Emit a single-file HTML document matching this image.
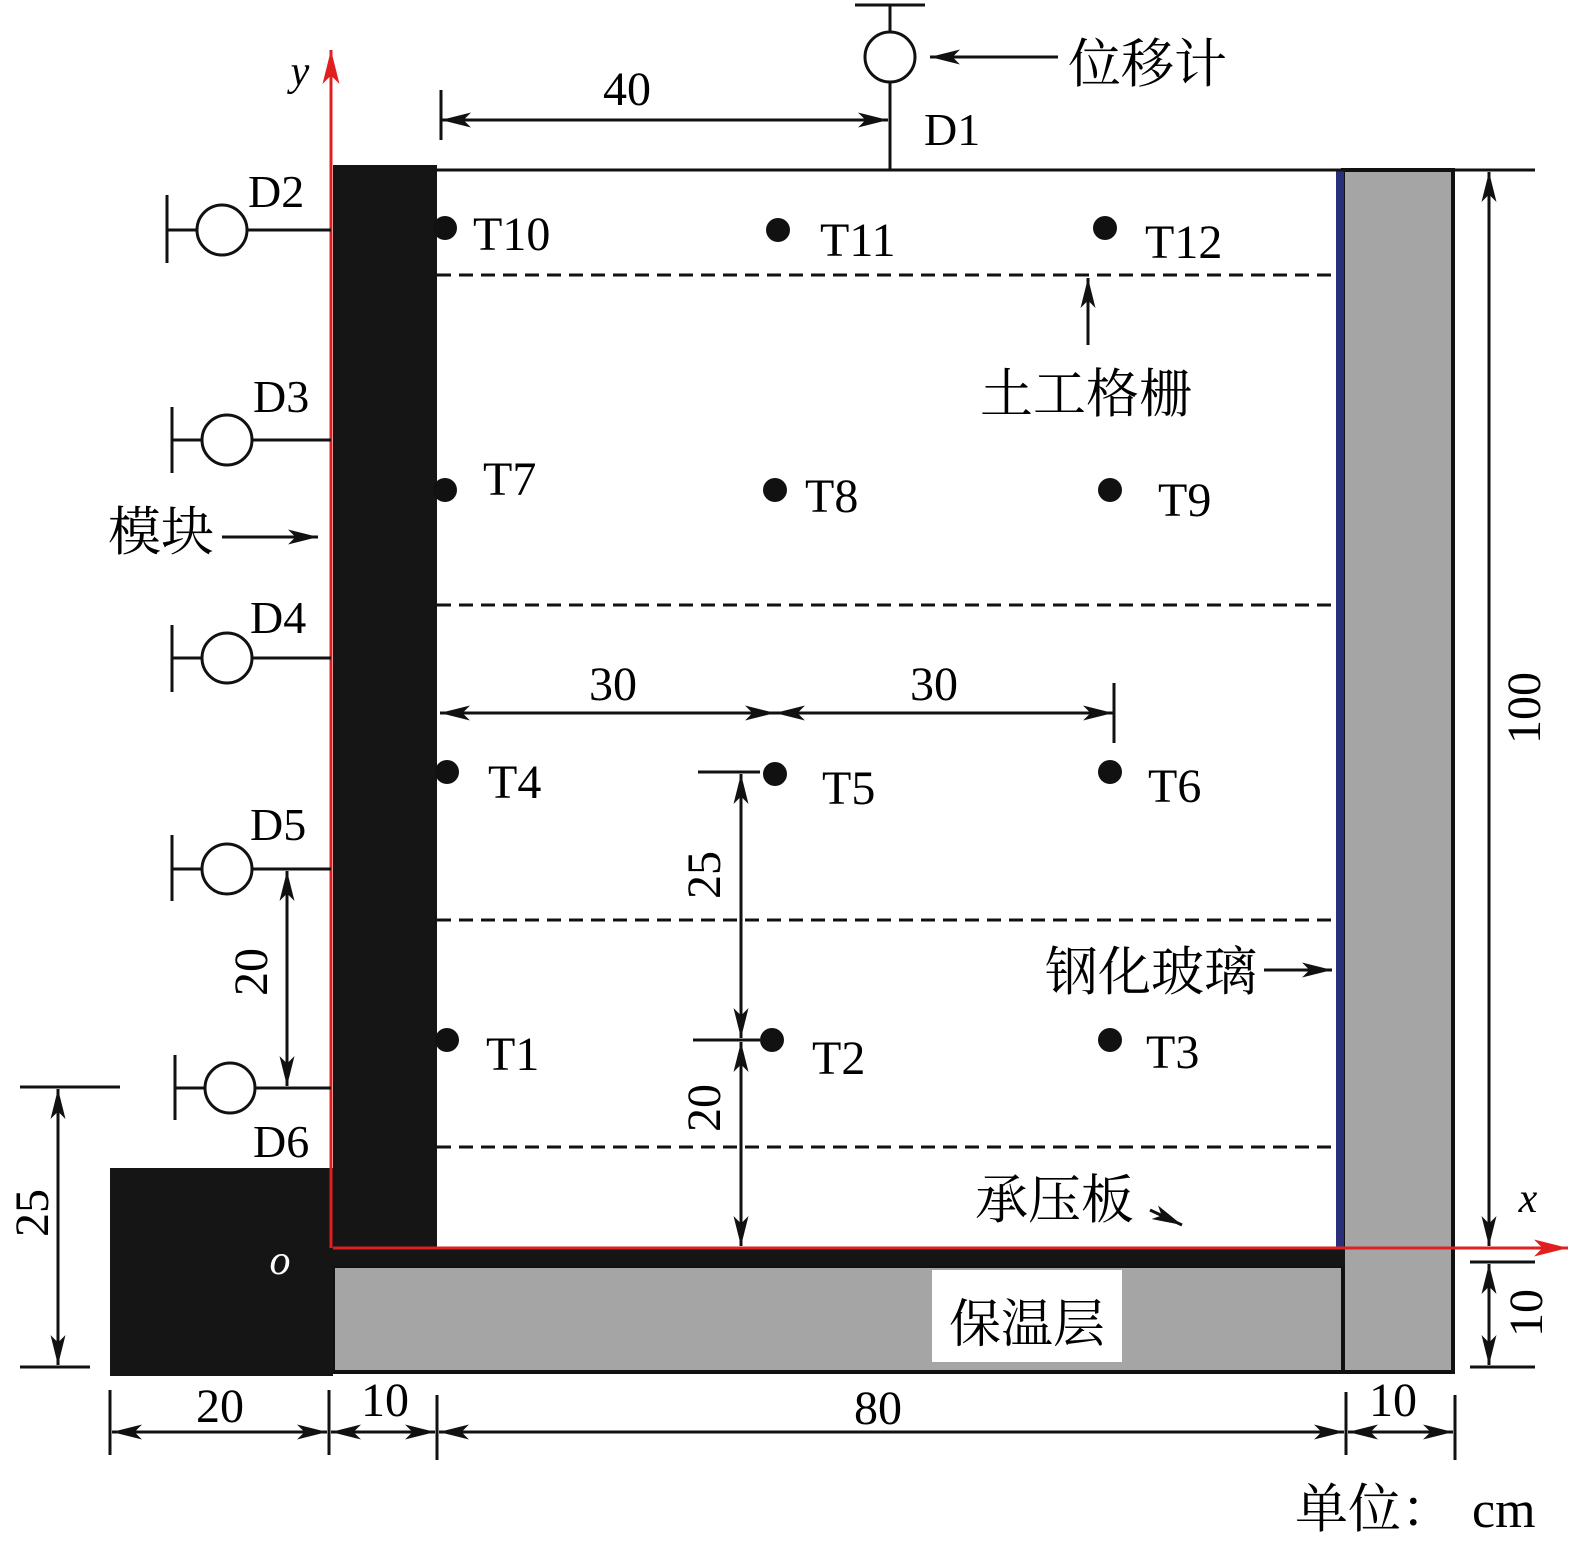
<!DOCTYPE html>
<html><head><meta charset="utf-8"><style>html,body{margin:0;padding:0;background:#fff}svg{display:block}</style></head>
<body>
<svg width="1573" height="1548" viewBox="0 0 1573 1548" xmlns="http://www.w3.org/2000/svg" font-family="Liberation Serif, Noto Serif CJK SC, serif">
<defs>
<marker id="a" viewBox="0 0 20 10" refX="20" refY="5" markerWidth="30" markerHeight="15" markerUnits="userSpaceOnUse" orient="auto-start-reverse"><path d="M0,0 L20,5 L0,10 L5,5 z" fill="#111"/></marker>
<marker id="r" viewBox="0 0 20 10" refX="20" refY="5" markerWidth="34" markerHeight="17" markerUnits="userSpaceOnUse" orient="auto"><path d="M0,0 L20,5 L0,10 L5,5 z" fill="#e02020"/></marker>
</defs>
<rect x="333" y="1266" width="1010" height="106" fill="#a5a5a5" stroke="#111" stroke-width="4"/>
<rect x="1343" y="170" width="110" height="1202" fill="#a5a5a5" stroke="#111" stroke-width="4"/>
<rect x="932" y="1270" width="190" height="92" fill="#fff"/>
<text x="1027" y="1342" font-size="52" text-anchor="middle">保温层</text>
<rect x="1336" y="170" width="8" height="1080" fill="#2a2f7a"/>
<rect x="110" y="1168" width="223" height="208" fill="#151515"/>
<rect x="333" y="165" width="104" height="1085" fill="#151515"/>
<rect x="333" y="1248" width="1012" height="18" fill="#151515"/>
<text x="280" y="1274" font-size="42" font-style="italic" fill="#fff" text-anchor="middle">o</text>
<line x1="437" y1="170" x2="1535" y2="170" stroke="#111" stroke-width="3"/>
<line x1="331" y1="1248" x2="331" y2="50" stroke="#e02020" stroke-width="3" marker-end="url(#r)"/>
<line x1="333" y1="1248" x2="1568" y2="1248" stroke="#e02020" stroke-width="3" marker-end="url(#r)"/>
<text x="300" y="85" font-size="42" font-style="italic" text-anchor="middle">y</text>
<text x="1528" y="1212" font-size="42" font-style="italic" text-anchor="middle">x</text>
<g stroke="#111" stroke-width="3" stroke-dasharray="14,8">
<line x1="437" y1="275" x2="1338" y2="275"/><line x1="437" y1="605" x2="1338" y2="605"/>
<line x1="437" y1="920" x2="1338" y2="920"/><line x1="437" y1="1147" x2="1338" y2="1147"/>
</g>
<g fill="#111">
<circle cx="445" cy="228" r="12"/><circle cx="778" cy="230" r="12"/><circle cx="1105" cy="228" r="12"/>
<circle cx="445" cy="490" r="12"/><circle cx="775" cy="490" r="12"/><circle cx="1110" cy="490" r="12"/>
<circle cx="447" cy="772" r="12"/><circle cx="775" cy="774" r="12"/><circle cx="1110" cy="772" r="12"/>
<circle cx="447" cy="1040" r="12"/><circle cx="772" cy="1040" r="12"/><circle cx="1110" cy="1040" r="12"/>
</g>
<g font-size="48">
<text x="473" y="250">T10</text><text x="820" y="256">T11</text><text x="1145" y="258">T12</text>
<text x="483" y="495">T7</text><text x="805" y="512">T8</text><text x="1158" y="516">T9</text>
<text x="488" y="798">T4</text><text x="822" y="804">T5</text><text x="1148" y="802">T6</text>
<text x="486" y="1070">T1</text><text x="812" y="1074">T2</text><text x="1146" y="1068">T3</text>
</g>
<g stroke="#111" stroke-width="3" fill="#fff">
<line x1="855" y1="5" x2="925" y2="5"/><line x1="890" y1="5" x2="890" y2="170"/><circle cx="890" cy="57" r="25"/>
<line x1="167" y1="195" x2="167" y2="263"/><line x1="167" y1="230" x2="331" y2="230"/><circle cx="222" cy="230" r="25"/>
<line x1="172" y1="407" x2="172" y2="473"/><line x1="172" y1="440" x2="331" y2="440"/><circle cx="227" cy="440" r="25"/>
<line x1="172" y1="625" x2="172" y2="692"/><line x1="172" y1="658" x2="331" y2="658"/><circle cx="227" cy="658" r="25"/>
<line x1="172" y1="835" x2="172" y2="901"/><line x1="172" y1="869" x2="331" y2="869"/><circle cx="227" cy="869" r="25"/>
<line x1="175" y1="1055" x2="175" y2="1120"/><line x1="175" y1="1088" x2="331" y2="1088"/><circle cx="230" cy="1088" r="25"/>
</g>
<g font-size="46">
<text x="924" y="145">D1</text><text x="248" y="207">D2</text><text x="253" y="412">D3</text>
<text x="250" y="633">D4</text><text x="250" y="840">D5</text><text x="253" y="1157">D6</text>
</g>
<g stroke="#111" stroke-width="3" fill="none">
<line x1="441" y1="90" x2="441" y2="140"/>
<line x1="441" y1="120" x2="888" y2="120" marker-start="url(#a)" marker-end="url(#a)"/>
<line x1="930" y1="57" x2="1058" y2="57" marker-start="url(#a)"/>
<line x1="440" y1="713" x2="775" y2="713" marker-start="url(#a)" marker-end="url(#a)"/>
<line x1="775" y1="713" x2="1113" y2="713" marker-start="url(#a)" marker-end="url(#a)"/>
<line x1="1114" y1="683" x2="1114" y2="743"/>
<line x1="698" y1="772" x2="760" y2="772"/>
<line x1="693" y1="1040" x2="760" y2="1040"/>
<line x1="741" y1="774" x2="741" y2="1038" marker-start="url(#a)" marker-end="url(#a)"/>
<line x1="741" y1="1042" x2="741" y2="1246" marker-start="url(#a)" marker-end="url(#a)"/>
<line x1="287" y1="871" x2="287" y2="1086" marker-start="url(#a)" marker-end="url(#a)"/>
<line x1="20" y1="1087" x2="120" y2="1087"/><line x1="20" y1="1367" x2="90" y2="1367"/>
<line x1="58" y1="1089" x2="58" y2="1365" marker-start="url(#a)" marker-end="url(#a)"/>
<line x1="1467" y1="170" x2="1535" y2="170"/>
<line x1="1470" y1="1262" x2="1535" y2="1262"/><line x1="1470" y1="1367" x2="1535" y2="1367"/>
<line x1="1489" y1="172" x2="1489" y2="1246" marker-start="url(#a)" marker-end="url(#a)"/>
<line x1="1489" y1="1264" x2="1489" y2="1365" marker-start="url(#a)" marker-end="url(#a)"/>
<line x1="110" y1="1390" x2="110" y2="1455"/><line x1="329" y1="1390" x2="329" y2="1455"/>
<line x1="437" y1="1395" x2="437" y2="1460"/><line x1="1346" y1="1392" x2="1346" y2="1455"/>
<line x1="1455" y1="1395" x2="1455" y2="1460"/>
<line x1="112" y1="1432" x2="327" y2="1432" marker-start="url(#a)" marker-end="url(#a)"/>
<line x1="331" y1="1432" x2="435" y2="1432" marker-start="url(#a)" marker-end="url(#a)"/>
<line x1="439" y1="1432" x2="1344" y2="1432" marker-start="url(#a)" marker-end="url(#a)"/>
<line x1="1348" y1="1432" x2="1453" y2="1432" marker-start="url(#a)" marker-end="url(#a)"/>
<line x1="222" y1="537" x2="318" y2="537" marker-end="url(#a)"/>
<line x1="1088" y1="345" x2="1088" y2="278" marker-end="url(#a)"/>
<line x1="1264" y1="970" x2="1332" y2="970" marker-end="url(#a)"/>
<line x1="1150" y1="1210" x2="1182" y2="1225" marker-end="url(#a)"/>
</g>
<g font-size="48" text-anchor="middle">
<text x="627" y="105">40</text><text x="613" y="700">30</text><text x="934" y="700">30</text>
<text x="220" y="1422">20</text><text x="385" y="1416">10</text><text x="878" y="1424">80</text><text x="1393" y="1416">10</text>
<text transform="translate(720,875) rotate(-90)">25</text>
<text transform="translate(720,1108) rotate(-90)">20</text>
<text transform="translate(267,972) rotate(-90)">20</text>
<text transform="translate(48,1213) rotate(-90)">25</text>
<text transform="translate(1540,708) rotate(-90)">100</text>
<text transform="translate(1542,1313) rotate(-90)">10</text>
</g>
<g font-size="53">
<text x="1068" y="82">位移计</text>
<text x="980" y="412">土工格栅</text>
<text x="108" y="550">模块</text>
<text x="1045" y="990">钢化玻璃</text>
<text x="975" y="1218">承压板</text>
<text x="1295" y="1527">单位：<tspan font-size="52" dx="18">cm</tspan></text>
</g>
</svg>
</body></html>
